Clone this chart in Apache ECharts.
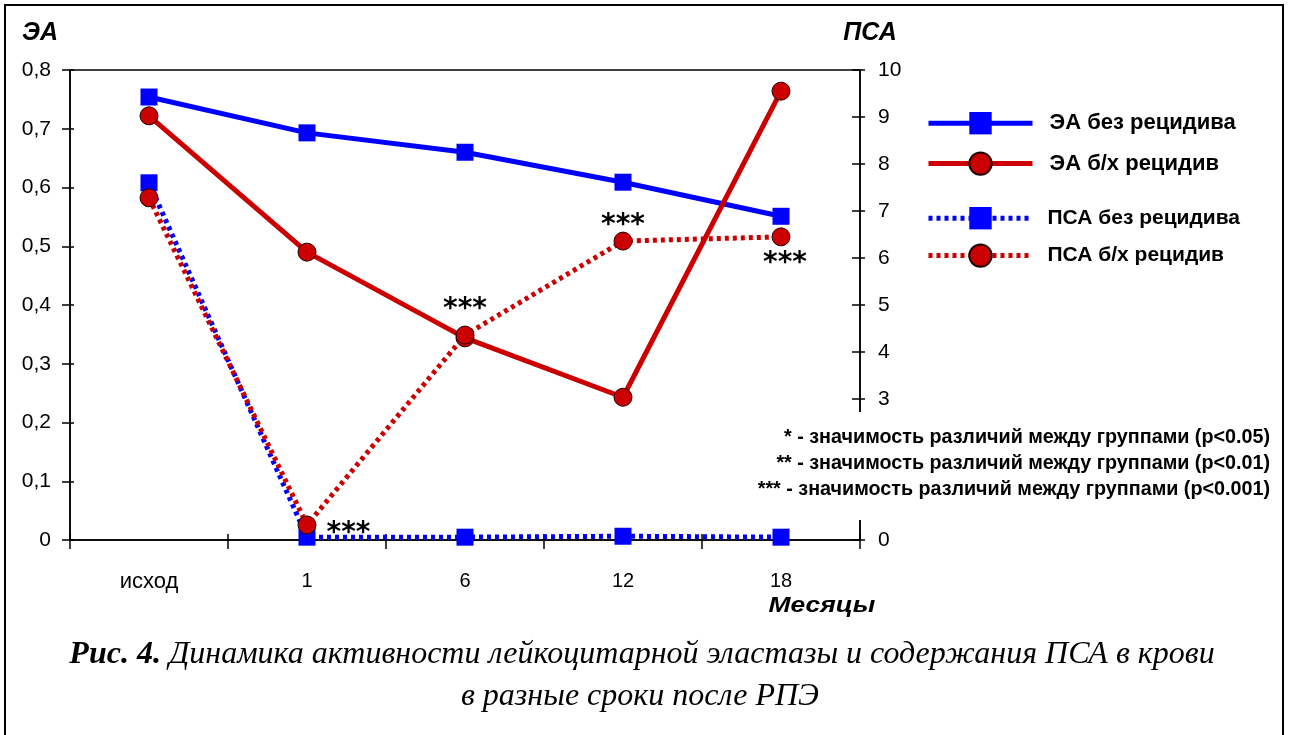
<!DOCTYPE html>
<html>
<head>
<meta charset="utf-8">
<script src="https://cdn.jsdelivr.net/npm/echarts@6/dist/echarts.min.js"></script>
<style>
html,body{margin:0;padding:0;background:#fff;}
#chart{width:1292px;height:735px;}
</style>
</head>
<body>
<div id="chart"></div>
<script>
const categories = ['исход', '1', '6', '12', '18'];
const eaNoRelapse = [0.754, 0.693, 0.660, 0.609, 0.551];
const eaRelapse = [0.722, 0.490, 0.344, 0.243, 0.764];
const psaNoRelapse = [7.60, 0.06, 0.06, 0.08, 0.06];
const psaRelapse = [7.28, 0.32, 4.36, 6.36, 6.45];
const psaStars = ['', '***', '***', '***', '***'];
const seriesNames = ['ЭА без рецидива', 'ЭА б/х рецидив', 'ПСА без рецидива', 'ПСА б/х рецидив'];
const eaTicks = [0, 0.1, 0.2, 0.3, 0.4, 0.5, 0.6, 0.7, 0.8];
const psaTicks = [0, 3, 4, 5, 6, 7, 8, 9, 10];
const footnotes = [
  '* - значимость различий между группами (p<0.05)',
  '** - значимость различий между группами (p<0.01)',
  '*** - значимость различий между группами (p<0.001)'
];
const captionBold = 'Рис. 4.';
const captionLine1 = ' Динамика активности лейкоцитарной эластазы и содержания ПСА в крови';
const captionLine2 = 'в разные сроки после РПЭ';

const BLUE = '#0000FF', RED = '#CC0000';
const SANS = '"Liberation Sans", Arial, sans-serif';
const SERIF = '"Liberation Serif", "Times New Roman", serif';

const starPos = ['right', 'right', 'top', 'top', 'bottom'];
const starDist = [10, 10, 2, -8, 3];
const starOffset = [[0, 0], [0, 9], [0, 0], [0, 0], [4, 0]];

const chart = echarts.init(document.getElementById('chart'), null, {renderer: 'canvas'});

const eaFmt = v => v === 0 ? '0' : v.toFixed(1).replace('.', ',');
const xFmt = v => /^\d+$/.test(v) ? v : '{w|' + v + '}';

const option = {
  backgroundColor: '#fff',
  animation: false,
  grid: {left: 70, right: 432, top: 70, bottom: 195, show: true, borderColor: '#000', borderWidth: 1.5, backgroundColor: 'transparent'},
  xAxis: [{
    type: 'category', data: categories, boundaryGap: true,
    axisLine: {lineStyle: {color: '#000', width: 1.5}},
    axisTick: {show: true, length: 9, lineStyle: {color: '#000', width: 1.5}},
    axisLabel: {color: '#000', fontFamily: SANS, fontSize: 20, margin: 31, formatter: xFmt,
      rich: {w: {fontFamily: SANS, fontSize: 22, color: '#000'}}},
    splitLine: {show: false}
  }, {
    type: 'category', data: categories, boundaryGap: true, position: 'bottom',
    axisLine: {show: false},
    axisTick: {show: true, inside: true, length: 6, lineStyle: {color: '#000', width: 1.5}},
    axisLabel: {show: false}, splitLine: {show: false}
  }],
  yAxis: [{
    type: 'value', min: 0, max: 0.8, interval: 0.1, position: 'left',
    axisLine: {show: true, lineStyle: {color: '#000', width: 1.5}},
    axisTick: {show: true, length: 8, lineStyle: {color: '#000', width: 1.5}},
    axisLabel: {color: '#000', fontFamily: SANS, fontSize: 21, margin: 19, formatter: eaFmt, customValues: eaTicks},
    splitLine: {show: false}
  }, {
    type: 'value', min: 0, max: 10, interval: 1, position: 'right',
    axisLine: {show: true, lineStyle: {color: '#000', width: 1.5}},
    axisTick: {show: true, length: 5, customValues: psaTicks, lineStyle: {color: '#000', width: 1.5}},
    axisLabel: {color: '#000', fontFamily: SANS, fontSize: 21, margin: 18, customValues: psaTicks},
    splitLine: {show: false}
  }, {
    type: 'value', min: 0, max: 0.8, interval: 0.1, position: 'left',
    axisLine: {show: false},
    axisTick: {show: true, inside: true, length: 4, lineStyle: {color: '#000', width: 1.5}},
    axisLabel: {show: false}, splitLine: {show: false}
  }, {
    type: 'value', min: 0, max: 10, interval: 1, position: 'right',
    axisLine: {show: false},
    axisTick: {show: true, inside: true, length: 8, customValues: psaTicks, lineStyle: {color: '#000', width: 1.5}},
    axisLabel: {show: false}, splitLine: {show: false}
  }],
  legend: [{
    data: [seriesNames[0], seriesNames[1]],
    orient: 'vertical', left: 926, top: 112, padding: 0,
    itemWidth: 104, itemHeight: 28, itemGap: 17,
    lineStyle: {width: 5},
    textStyle: {color: '#000', fontFamily: SANS, fontWeight: 'bold', fontSize: 22, lineHeight: 22, padding: [0, 0, 0, 12]},
    selectedMode: false
  }, {
    data: [seriesNames[2], seriesNames[3]],
    orient: 'vertical', left: 926, top: 207, padding: 0,
    itemWidth: 104, itemHeight: 28, itemGap: 14,
    lineStyle: {width: 5},
    textStyle: {color: '#000', fontFamily: SANS, fontWeight: 'bold', fontSize: 21, lineHeight: 22, padding: [0, 0, 0, 10]},
    selectedMode: false
  }],
  series: [{
    name: seriesNames[0], type: 'line', yAxisIndex: 0, data: eaNoRelapse,
    symbol: 'rect', symbolSize: 17,
    lineStyle: {color: BLUE, width: 5}, itemStyle: {color: BLUE}, z: 2
  }, {
    name: seriesNames[1], type: 'line', yAxisIndex: 0, data: eaRelapse,
    symbol: 'circle', symbolSize: 18,
    lineStyle: {color: RED, width: 5}, itemStyle: {color: RED, borderColor: '#200', borderWidth: 1}, z: 3
  }, {
    name: seriesNames[2], type: 'line', yAxisIndex: 1, data: psaNoRelapse,
    symbol: 'rect', symbolSize: 17,
    lineStyle: {color: BLUE, width: 5, type: [4, 4]}, itemStyle: {color: BLUE}, z: 4
  }, {
    name: seriesNames[3], type: 'line', yAxisIndex: 1,
    data: psaRelapse.map((v, i) => ({
      value: v,
      label: {
        show: psaStars[i] !== '', formatter: psaStars[i], position: starPos[i], distance: starDist[i], offset: starOffset[i],
        color: '#000', fontFamily: '"DejaVu Sans", sans-serif', fontWeight: 'bold', fontSize: 28
      }
    })),
    symbol: 'circle', symbolSize: 18,
    lineStyle: {color: RED, width: 5, type: [4, 4]}, itemStyle: {color: RED, borderColor: '#200', borderWidth: 1}, z: 5
  }],
  graphic: [
    {type: 'rect', z: 100, shape: {x: 5, y: 5, width: 1278, height: 740}, style: {fill: 'none', stroke: '#000', lineWidth: 2}},
    {type: 'rect', z: 100, shape: {x: 850, y: 412, width: 20, height: 108}, style: {fill: '#fff'}},
    {type: 'text', z: 101, x: 40, y: 33, style: {text: 'ЭА', font: 'italic bold 25px ' + SANS, fill: '#000', textAlign: 'center', textVerticalAlign: 'middle'}},
    {type: 'text', z: 101, x: 870, y: 33, style: {text: 'ПСА', font: 'italic bold 25px ' + SANS, fill: '#000', textAlign: 'center', textVerticalAlign: 'middle'}},
    {type: 'text', z: 101, x: 822, y: 606, scaleX: 1.2, style: {text: 'Месяцы', font: 'italic bold 22px ' + SANS, fill: '#000', textAlign: 'center', textVerticalAlign: 'middle'}},
    {type: 'text', z: 101, x: 1270, y: 437, scaleX: 0.94, style: {text: footnotes[0], font: 'bold 21px ' + SANS, fill: '#000', textAlign: 'right', textVerticalAlign: 'middle'}},
    {type: 'text', z: 101, x: 1270, y: 463, scaleX: 0.94, style: {text: footnotes[1], font: 'bold 21px ' + SANS, fill: '#000', textAlign: 'right', textVerticalAlign: 'middle'}},
    {type: 'text', z: 101, x: 1270, y: 489, scaleX: 0.94, style: {text: footnotes[2], font: 'bold 21px ' + SANS, fill: '#000', textAlign: 'right', textVerticalAlign: 'middle'}},
    {type: 'text', z: 101, x: 642, y: 655, style: {
      text: '{b|' + captionBold + '}{i|' + captionLine1 + '}',
      textAlign: 'center', textVerticalAlign: 'middle',
      rich: {
        b: {font: 'italic bold 32px ' + SERIF, fill: '#000'},
        i: {font: 'italic 32px ' + SERIF, fill: '#000'}
      }
    }},
    {type: 'text', z: 101, x: 640, y: 697, style: {text: captionLine2, font: 'italic 32px ' + SERIF, fill: '#000', textAlign: 'center', textVerticalAlign: 'middle'}}
  ]
};
chart.setOption(option);
</script>
</body>
</html>
